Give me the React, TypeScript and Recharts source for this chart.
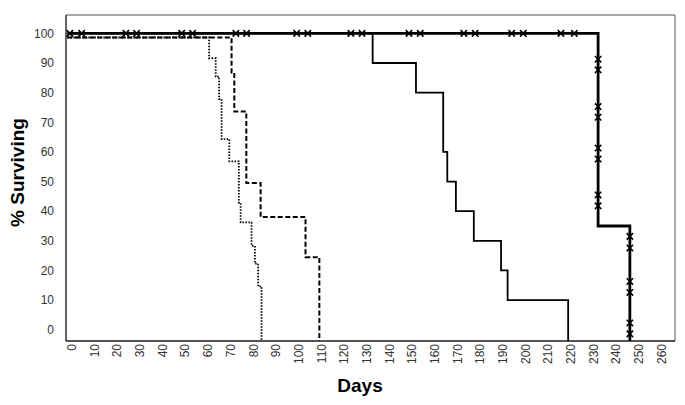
import { ComposedChart, Line, Scatter, XAxis, YAxis, ReferenceArea } from 'recharts';

// Kaplan-Meier curves (days, % surviving)
const dottedDays = [-2, 60.5, 63.4, 64.9, 66, 69.4, 73.6, 74.4, 79.2, 80.7, 82.1, 83.6];
const dottedPct = [98.6, 91.6, 85.4, 77.8, 64.3, 56.8, 42.9, 36.2, 28.3, 22.3, 14.6, -3.8];

const dashedDays = [-2, 70.4, 71.6, 76.9, 83.2, 103, 109.1];
const dashedPct = [98.6, 86.8, 73.6, 49.5, 38, 24.5, -3.8];

const thinDays = [-2, 132.6, 151.7, 163.7, 165.5, 169.3, 177.2, 189.2, 192.1, 218.8];
const thinPct = [100, 90, 80, 60, 50, 40, 30, 20, 10, -3.8];

const thickDays = [-2, 232, 246];
const thickPct = [100, 35, -3.8];

// censored marks
const censorTopDays = [
  -0.9, 4.3, 23.8, 28.5, 48.4, 53.2, 72.3, 77, 99.1, 104, 123, 127.9, 148.6, 153.6, 172.8, 177.8,
  193.9, 199, 215.6, 221.5,
];
const censorAt232 = [91.3, 87.7, 75.3, 71.7, 61.3, 57.6, 45.5, 41.8];
const censorAt246 = [31.5, 27.6, 16.3, 12.6, 2.3, -1.4];

const xTicks = Array.from({ length: 27 }, (_, i) => i * 10);
const yTicks = [0, 10, 20, 30, 40, 50, 60, 70, 80, 90, 100];

const X_DOMAIN = [-2.6, 265.9];
const Y_DOMAIN = [-3.8, 106.2];

const toPoints = (xs: number[], ys: number[]) => xs.map((x, i) => ({ x, y: ys[i] }));

const censorData = [
  ...censorTopDays.map((x) => ({ x, y: 100 })),
  ...censorAt232.map((y) => ({ x: 232, y })),
  ...censorAt246.map((y) => ({ x: 246, y })),
];

const FONT = 'Arial, "Liberation Sans", sans-serif';

function CrossMark(props: any) {
  const { cx, cy } = props;
  if (cx == null || cy == null) return null;
  const s = 3.2;
  return (
    <path
      d={`M${cx - s},${cy - s}L${cx + s},${cy + s}M${cx + s},${cy - s}L${cx - s},${cy + s}`}
      stroke="#000"
      strokeWidth={1.6}
      fill="none"
    />
  );
}

function XTick(props: any) {
  const { x, y, payload } = props;
  return (
    <text
      x={x}
      y={y}
      transform={`rotate(-90 ${x} ${y})`}
      textAnchor="end"
      dy="0.35em"
      fontSize={12}
      fontFamily={FONT}
      fill="#333"
    >
      {payload.value}
    </text>
  );
}

export default function App() {
  return (
    <div style={{ margin: -8, background: '#fff', width: 685, height: 405 }}>
      <ComposedChart width={685} height={405} margin={{ top: 15, right: 10, bottom: 0, left: 0 }}>
        <ReferenceArea
          x1={X_DOMAIN[0]}
          x2={X_DOMAIN[1]}
          y1={Y_DOMAIN[0]}
          y2={Y_DOMAIN[1]}
          fill="none"
          stroke="#555"
          strokeWidth={1}
        />
        <XAxis
          dataKey="x"
          type="number"
          domain={X_DOMAIN}
          ticks={xTicks}
          allowDataOverflow
          interval={0}
          height={64}
          tickSize={0}
          tickMargin={3}
          tick={<XTick />}
          stroke="#000"
          label={{
            content: () => (
              <text
                x={360}
                y={392}
                textAnchor="middle"
                fontSize={19}
                fontWeight="bold"
                fontFamily={FONT}
                fill="#000"
              >
                Days
              </text>
            ),
          }}
        />
        <YAxis
          dataKey="y"
          type="number"
          domain={Y_DOMAIN}
          ticks={yTicks}
          allowDataOverflow
          interval={0}
          width={66}
          tickSize={0}
          tickMargin={12}
          axisLine={{ stroke: '#222' }}
          tick={{ fontSize: 12, fontFamily: FONT, fill: '#333' }}
          label={{
            content: () => (
              <text
                x={17}
                y={172.5}
                transform="rotate(-90 17 172.5)"
                textAnchor="middle"
                dominantBaseline="central"
                fontSize={19}
                fontWeight="bold"
                fontFamily={FONT}
                fill="#000"
              >
                % Surviving
              </text>
            ),
          }}
        />
        <Line
          data={toPoints(dottedDays, dottedPct)}
          dataKey="y"
          type="stepAfter"
          stroke="#000"
          strokeWidth={1.8}
          strokeDasharray="1.5 1.5"
          dot={false}
          isAnimationActive={false}
        />
        <Line
          data={toPoints(dashedDays, dashedPct)}
          dataKey="y"
          type="stepAfter"
          stroke="#000"
          strokeWidth={2}
          strokeDasharray="5 2.5"
          dot={false}
          isAnimationActive={false}
        />
        <Line
          data={toPoints(thinDays, thinPct)}
          dataKey="y"
          type="stepAfter"
          stroke="#000"
          strokeWidth={1.8}
          dot={false}
          isAnimationActive={false}
        />
        <Line
          data={toPoints(thickDays, thickPct)}
          dataKey="y"
          type="stepAfter"
          stroke="#000"
          strokeWidth={2.8}
          dot={false}
          isAnimationActive={false}
        />
        <Scatter data={censorData} dataKey="y" shape={<CrossMark />} isAnimationActive={false} />
      </ComposedChart>
    </div>
  );
}
